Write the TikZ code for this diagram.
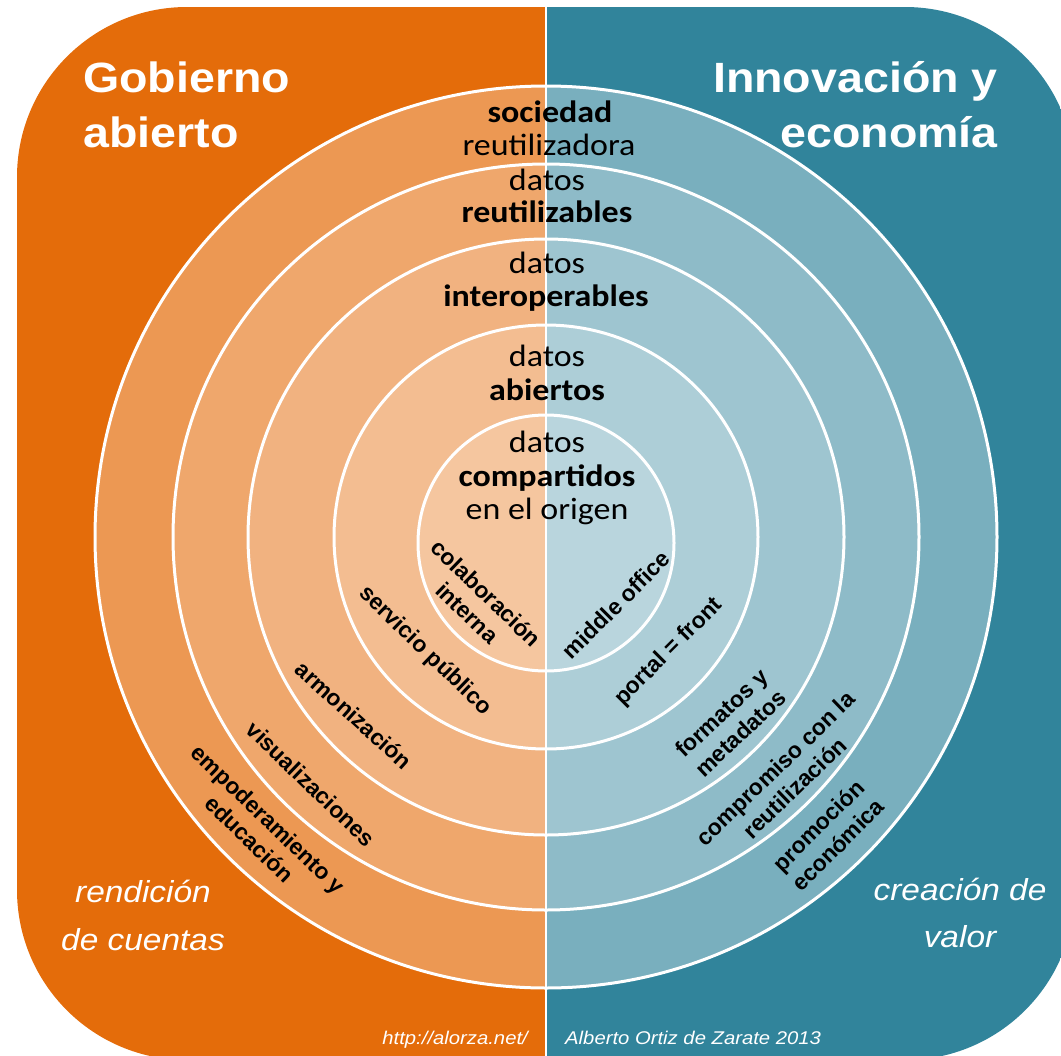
\documentclass[tikz,border=0pt]{standalone}
\usepackage{fontspec}
\newfontfamily\arialf[FakeStretch=1.1]{Liberation Sans}
\newfontfamily\arialn{Liberation Sans}
\newfontfamily\calf[FakeStretch=1.1]{Carlito}
\definecolor{orng}{HTML}{E46C0A}
\definecolor{tl}{HTML}{31849B}
\colorlet{oA}{orng!70}
\colorlet{oB}{orng!60}
\colorlet{oC}{orng!52}
\colorlet{oD}{orng!45}
\colorlet{oE}{orng!39}
\colorlet{tA}{tl!65}
\colorlet{tB}{tl!55}
\colorlet{tC}{tl!47}
\colorlet{tD}{tl!40}
\colorlet{tE}{tl!34}
\begin{document}
\begin{tikzpicture}[x=1bp,y=-1bp,
  ring/.style={draw=white,line width=3bp},
  ttl/.style={font=\arialf\bfseries\fontsize{42.5}{50}\selectfont,text=white,inner sep=0},
  itl/.style={font=\arialf\itshape\fontsize{30.5}{36}\selectfont,text=white,inner sep=0,anchor=base},
  ftr/.style={font=\arialf\itshape\fontsize{18.5}{22}\selectfont,text=white,inner sep=0},
  ctr/.style={font=\calf\fontsize{31}{36}\selectfont,text=black,inner sep=0,anchor=base},
  ctrb/.style={font=\calf\bfseries\fontsize{31}{36}\selectfont,text=black,inner sep=0,anchor=base},
  lbl/.style={font=\arialn\bfseries\fontsize{23}{27.5}\selectfont,text=black,inner sep=0,align=center}]
\useasboundingbox (0,0) rectangle (1061,1056);
\clip (0,0) rectangle (1061,1056);
% background
\begin{scope}
  \clip[rounded corners=170bp] (17,7) rectangle (1075,1060);
  \fill[orng] (0,0) rectangle (546,1056);
  \fill[tl] (546,0) rectangle (1075,1056);
\end{scope}
\coordinate (c) at (546,537);
\coordinate (ci) at (546,543);
% ring fills
\begin{scope}
  \clip (0,0) rectangle (546,1056);
  \fill[oA] (c) circle[radius=451];
  \fill[oB] (c) circle[radius=373];
  \fill[oC] (c) circle[radius=298];
  \fill[oD] (c) circle[radius=212];
  \fill[oE] (ci) circle[radius=128];
\end{scope}
\begin{scope}
  \clip (546,0) rectangle (1061,1056);
  \fill[tA] (c) circle[radius=451];
  \fill[tB] (c) circle[radius=373];
  \fill[tC] (c) circle[radius=298];
  \fill[tD] (c) circle[radius=212];
  \fill[tE] (ci) circle[radius=128];
\end{scope}
\draw[ring] (c) circle[radius=451];
\draw[ring] (c) circle[radius=373];
\draw[ring] (c) circle[radius=298];
\draw[ring] (c) circle[radius=212];
\draw[ring] (ci) circle[radius=128];
\coordinate (divtop) at (546,0);
\coordinate (divbot) at (546,1056);
\draw[white,line width=2.5bp] (divtop) -- (divbot);
% titles
\node[ttl,anchor=base west] (tl1) at (83,92) {Gobierno};
\node[ttl,anchor=base west] (tl2) at (83,147) {abierto};
\node[ttl,anchor=base east] (tr1) at (998,92) {Innovación y};
\node[ttl,anchor=base east] (tr2) at (998,147) {economía};
% center texts
\node[ctrb] (s1) at (550,122) {sociedad};
\node[ctr]  (s2) at (549,155) {reutilizadora};
\node[ctr]  (r1) at (547,190) {datos};
\node[ctrb] (r2) at (547,222) {reutilizables};
\node[ctr]  (i1) at (547,273) {datos};
\node[ctrb] (i2) at (546,306) {interoperables};
\node[ctr]  (a1) at (547,366) {datos};
\node[ctrb] (a2) at (547,400) {abiertos};
\node[ctr]  (p1) at (547,452) {datos};
\node[ctrb] (p2) at (547,486) {compartidos};
\node[ctr]  (p3) at (547,519) {en el origen};
% left labels
\node[lbl,rotate=-44] (colab) at (477,603) {colaboración\\interna};
\node[lbl,rotate=-44] (serv) at (425,651) {servicio público};
\node[lbl,rotate=-42] (armo) at (354,715) {armonización};
\node[lbl,rotate=-44] (visu) at (311,784) {visualizaciones};
\node[lbl,rotate=-44] (empo) at (259,829) {empoderamiento y\\educación};
% right labels
\node[lbl,rotate=45] (midd) at (616,605) {middle office};
\node[lbl,rotate=45] (port) at (669,652) {portal = front};
\node[lbl,rotate=43] (form) at (731,723) {formatos y\\metadatos};
\node[lbl,rotate=44] (comp) at (785,778) {compromiso con la\\reutilización};
\node[lbl,rotate=45] (prom) at (828,835) {promoción\\económica};
% corner italic texts
\node[itl] (rc1) at (143,902) {rendición};
\node[itl] (rc2) at (143,950) {de cuentas};
\node[itl] (cv1) at (960,900) {creación de};
\node[itl] (cv2) at (960,947) {valor};
% footer
\node[ftr,anchor=base east] (url) at (528,1044) {http://alorza.net/};
\node[ftr,anchor=base west] (auth) at (565,1044) {Alberto Ortiz de Zarate 2013};
\end{tikzpicture}
\end{document}
